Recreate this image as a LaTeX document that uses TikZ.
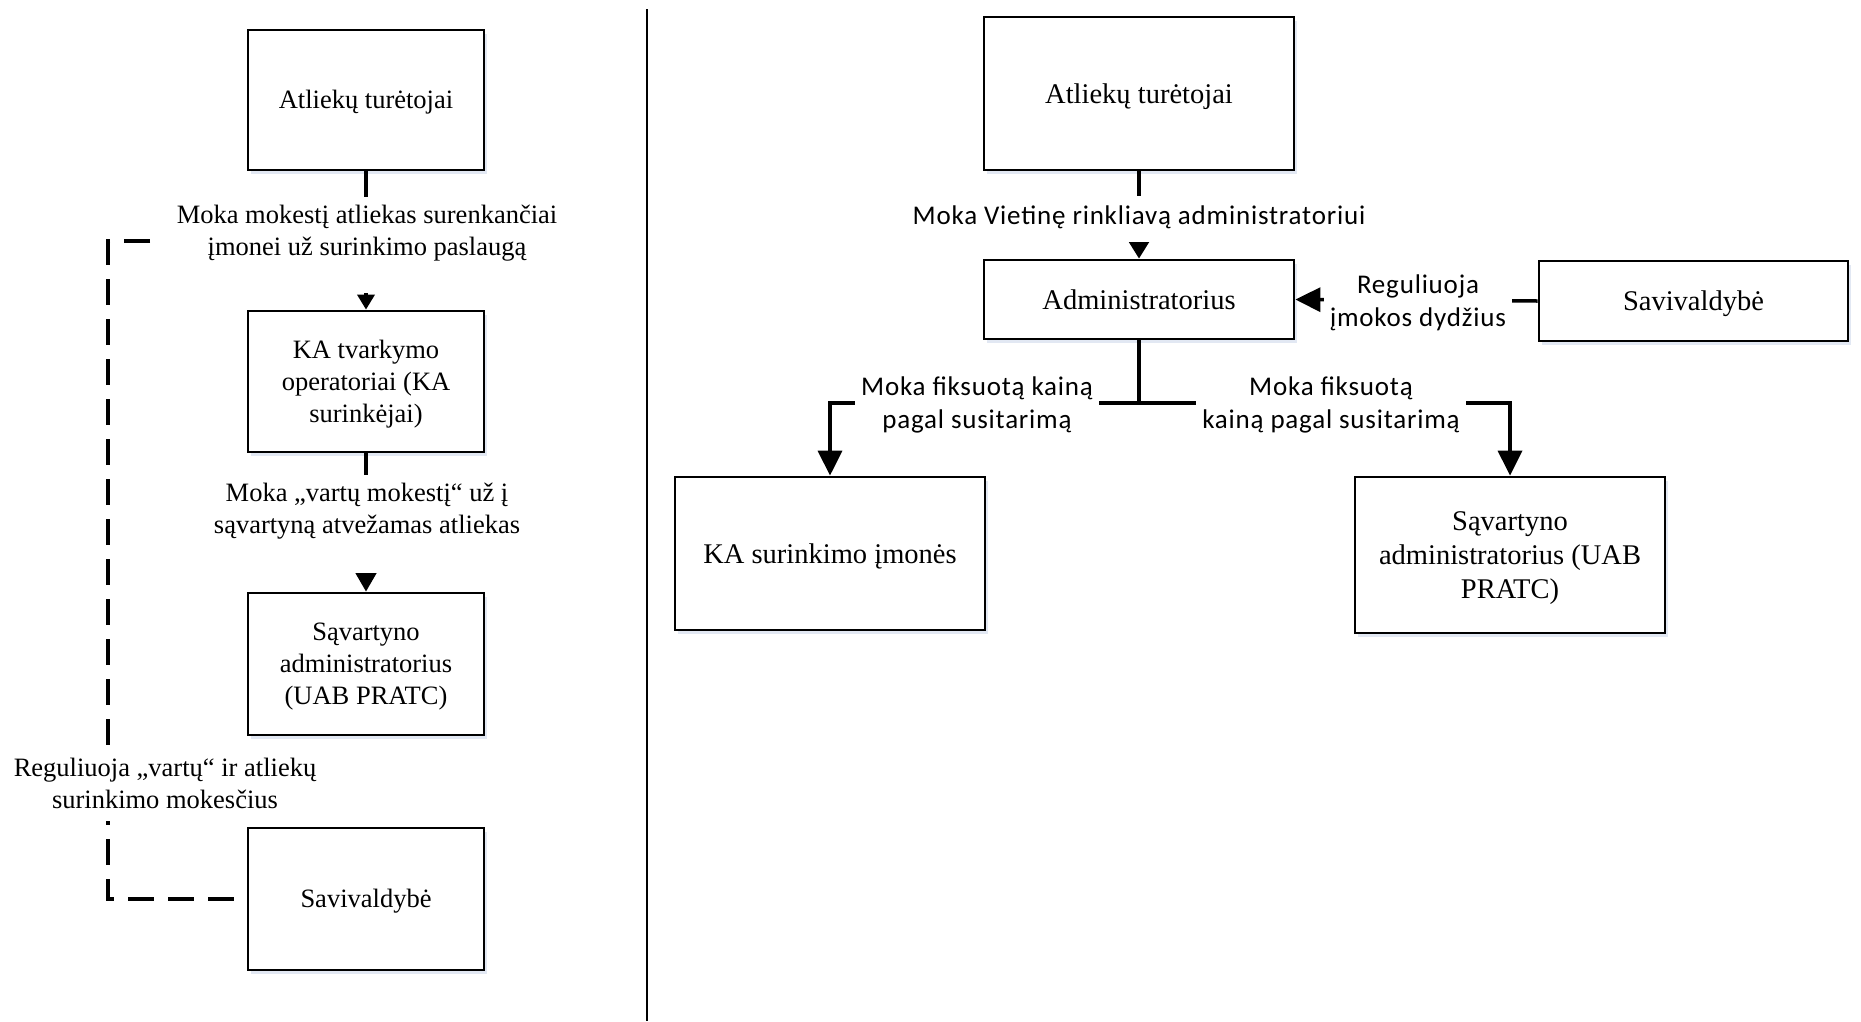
\documentclass[tikz,border=0pt]{standalone}
\usepackage{fontspec}
\setmainfont{Liberation Serif}
\newfontfamily\lblfont[LetterSpace=3]{Carlito}
\usetikzlibrary{arrows.meta,calc,shadows}
\definecolor{shadowc}{RGB}{190,205,228}
\newcommand{\ml}[1]{\begin{tabular}[t]{@{}c@{}}#1\end{tabular}}
\begin{document}
\begin{tikzpicture}[x=1pt,y=-1pt,
  box/.style={draw, line width=2.8pt, fill=white, inner xsep=4pt, inner ysep=0pt,
    drop shadow={shadow xshift=3pt, shadow yshift=-4pt, fill=shadowc, opacity=0.45}},
  lbox/.style={box, minimum width=236pt, font=\fontsize{26.5}{32}\selectfont, text height=23.6pt},
  rbox/.style={box, minimum width=310pt, font=\fontsize{28.5}{34}\selectfont, text height=25.4pt},
  l1line/.style={text depth=5.7pt},
  l3line/.style={text depth=69.7pt},
  r1line/.style={text depth=6.2pt},
  r3line/.style={text depth=74.2pt},
  llbl/.style={fill=white, inner xsep=3pt, inner ysep=3pt, font=\fontsize{26.5}{32}\selectfont},
  rlbl/.style={fill=white, inner xsep=6pt, inner ysep=3pt, font=\lblfont\fontsize{27}{33}\selectfont},
  conn/.style={line width=3.5pt},
  dashc/.style={line width=3.5pt, dash pattern=on 26pt off 14pt},
  tipS/.style={conn, -{Triangle[length=15pt,width=17pt]}},
  tipM/.style={conn, -{Triangle[length=20pt,width=22pt]}},
  tipR/.style={conn, -{Triangle[length=17pt,width=20pt]}},
  tipL/.style={conn, -{Triangle[length=25pt,width=24pt]}}
]
\useasboundingbox (0,0) rectangle (1861,1021);

% divider
\draw[line width=2.5pt] (647,9) -- (647,1021);

% ---------- left panel ----------
\node[lbox, l1line, minimum height=140pt] (la) at (366,100) {Atliekų turėtojai};
\node[lbox, l3line, minimum height=141pt] (lb) at (366,381.5) {\ml{KA tvarkymo\\operatoriai (KA\\surinkėjai)}};
\node[lbox, l3line, minimum height=142pt] (lc) at (366,664) {\ml{Sąvartyno\\administratorius\\(UAB PRATC)}};
\node[lbox, l1line, minimum height=142pt] (ld) at (366,899) {Savivaldybė};

\draw[tipS] (la) -- (lb);
\draw[tipM] (lb) -- (lc);

\node[llbl, anchor=base, inner ysep=0pt, text height=26pt, text depth=70pt] (l1) at (367,223)
  {\ml{Moka mokestį atliekas surenkančiai\\įmonei už surinkimo paslaugą}};
\node[llbl, anchor=base, inner ysep=0pt, text height=26pt, text depth=72pt] (l2) at (367,501)
  {\ml{Moka „vartų mokestį“ už į\\sąvartyną atvežamas atliekas}};

\coordinate (dend) at (150,241);
\coordinate (dtop) at (108,241);
\draw[dashc] (dend) -- (dtop) |- (ld.west);

\node[llbl, anchor=base] (l3) at (165,776)
  {\ml{Reguliuoja „vartų“ ir atliekų\\surinkimo mokesčius}};

% ---------- right panel ----------
\node[rbox, r1line, minimum height=153pt] (ra) at (1139,93.5) {Atliekų turėtojai};
\node[rbox, r1line, minimum height=79pt] (rb) at (1139,299.5) {Administratorius};
\node[rbox, r1line, minimum width=309pt, minimum height=80pt] (rc) at (1693.5,301) {Savivaldybė};
\node[rbox, r1line, minimum height=153pt] (rd) at (830,553.5) {KA surinkimo įmonės};
\node[rbox, r3line, minimum height=156pt] (re) at (1510,555) {\ml{Sąvartyno\\administratorius (UAB\\PRATC)}};

\coordinate (fk) at (1139,403);
\draw[tipR] (ra) -- (rb);
\draw[tipL] (rc.west) -- (rb.east);
\draw[conn] (rb.south) -- (fk);
\draw[tipL] (fk) -| (rd.north);
\draw[tipL] (fk) -| (re.north);

\node[rlbl, anchor=base, inner ysep=0pt, text height=28pt, text depth=18pt] (r1) at (1139,224)
  {Moka Vietinę rinkliavą administratoriui};
\node[rlbl, anchor=base] (r2) at (1418,293) {\ml{Reguliuoja\\įmokos dydžius}};
\node[rlbl, anchor=base] (r3) at (977,395) {\ml{Moka fiksuotą kainą\\pagal susitarimą}};
\node[rlbl, anchor=base] (r4) at (1331,395) {\ml{Moka fiksuotą\\kainą pagal susitarimą}};
\end{tikzpicture}
\end{document}
